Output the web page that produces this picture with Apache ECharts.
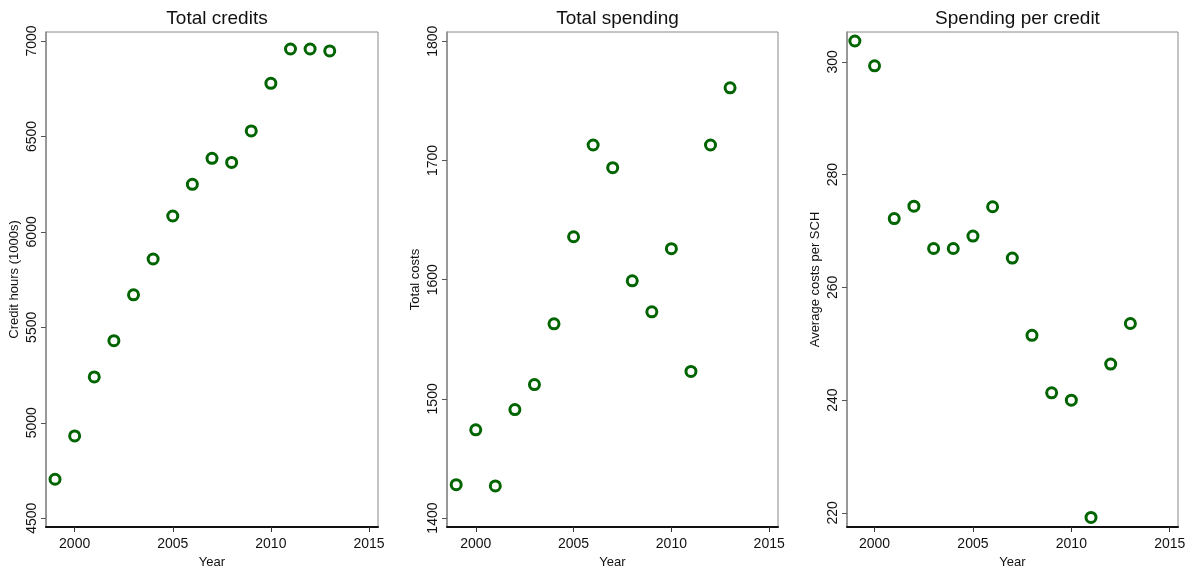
<!DOCTYPE html>
<html>
<head>
<meta charset="utf-8">
<script src="https://cdn.jsdelivr.net/npm/echarts@6/dist/echarts.min.js"></script>
<style>
  html, body { margin: 0; padding: 0; background: #fff; }
  #chart { width: 1196px; height: 567px; }
</style>
</head>
<body>
<div id="chart"></div>
<script>
// Annual figures, 1999–2013
const years = [1999, 2000, 2001, 2002, 2003, 2004, 2005, 2006, 2007, 2008, 2009, 2010, 2011, 2012, 2013];
const creditHours = [4704, 4931, 5240, 5430, 5670, 5858, 6083, 6249, 6385, 6364, 6529, 6778, 6958, 6958, 6948];
const totalCosts = [1428, 1474, 1427, 1491, 1512, 1563, 1636, 1713, 1694, 1599, 1573, 1626, 1523, 1713, 1761];
const costPerSCH = [303.7, 299.3, 272.2, 274.4, 266.9, 266.9, 269.1, 274.3, 265.2, 251.5, 241.3, 240.0, 219.2, 246.4, 253.6];

const panelTitles = ['Total credits', 'Total spending', 'Spending per credit'];
const yTitles = ['Credit hours (1000s)', 'Total costs', 'Average costs per SCH'];
const xTicks = [2000, 2005, 2010, 2015];
const yTicks = [
  [4500, 5000, 5500, 6000, 6500, 7000],
  [1400, 1500, 1600, 1700, 1800],
  [220, 240, 260, 280, 300]
];
const seriesValues = [creditHours, totalCosts, costPerSCH];

const FONT = '"Liberation Sans", Arial, sans-serif';
const GREEN = '#006400';
const plain = v => String(v);

// plot-area geometry per panel
const grids = [
  { left: 46, top: 32, width: 332, height: 495 },
  { left: 447, top: 32, width: 331, height: 495 },
  { left: 847, top: 32, width: 331, height: 495 }
];
const xRanges = [[1998.54, 2015.46], [1998.53, 2015.45], [1998.6, 2015.42]];
const yRanges = [[4454, 7047], [1392.5, 1807.8], [217.5, 305.3]];

const option = {
  animation: false,
  backgroundColor: '#fff',
  textStyle: { fontFamily: FONT },
  title: panelTitles.map((t, i) => ({
    text: t,
    left: grids[i].left + grids[i].width / 2,
    top: 4,
    textAlign: 'center',
    textStyle: { fontFamily: FONT, fontSize: 19, fontWeight: 'normal', color: '#111' }
  })),
  grid: grids.map(g => ({
    left: g.left, top: g.top, width: g.width, height: g.height,
    outerBoundsMode: 'none',
    containLabel: false,
    show: true, borderColor: '#8a8a8a', borderWidth: 1, backgroundColor: '#fff'
  })),
  xAxis: grids.map((g, i) => ({
    type: 'value',
    gridIndex: i,
    min: xRanges[i][0],
    max: xRanges[i][1],
    name: 'Year',
    nameLocation: 'middle',
    nameGap: 21,
    nameTextStyle: { fontFamily: FONT, fontSize: 13, color: '#111' },
    axisLine: { show: true, onZero: false, lineStyle: { color: '#111', width: 2 } },
    axisTick: { show: true, length: 5, customValues: xTicks, lineStyle: { color: '#333' } },
    axisLabel: { customValues: xTicks, formatter: plain, fontFamily: FONT, fontSize: 14, color: '#111', margin: 10 },
    splitLine: { show: false }
  })),
  yAxis: grids.map((g, i) => ({
    type: 'value',
    gridIndex: i,
    min: yRanges[i][0],
    max: yRanges[i][1],
    name: yTitles[i],
    nameLocation: 'middle',
    nameRotate: 90,
    nameGap: 25,
    nameTextStyle: { fontFamily: FONT, fontSize: 13, color: '#111' },
    axisLine: { show: true, onZero: false, lineStyle: { color: '#8a8a8a', width: 1.5 } },
    axisTick: { show: true, length: 5, customValues: yTicks[i], lineStyle: { color: '#555' } },
    axisLabel: { customValues: yTicks[i], formatter: plain, rotate: 90, fontFamily: FONT, fontSize: 14, color: '#111', margin: 7 },
    splitLine: { show: false }
  })),
  series: seriesValues.map((vals, i) => ({
    type: 'scatter',
    xAxisIndex: i,
    yAxisIndex: i,
    symbol: 'circle',
    symbolSize: 10,
    itemStyle: { color: '#fff', borderColor: GREEN, borderWidth: 3, opacity: 1 },
    data: years.map((y, k) => [y, vals[k]])
  }))
};

echarts.init(document.getElementById('chart'), null, { renderer: 'canvas' }).setOption(option);
</script>
</body>
</html>
